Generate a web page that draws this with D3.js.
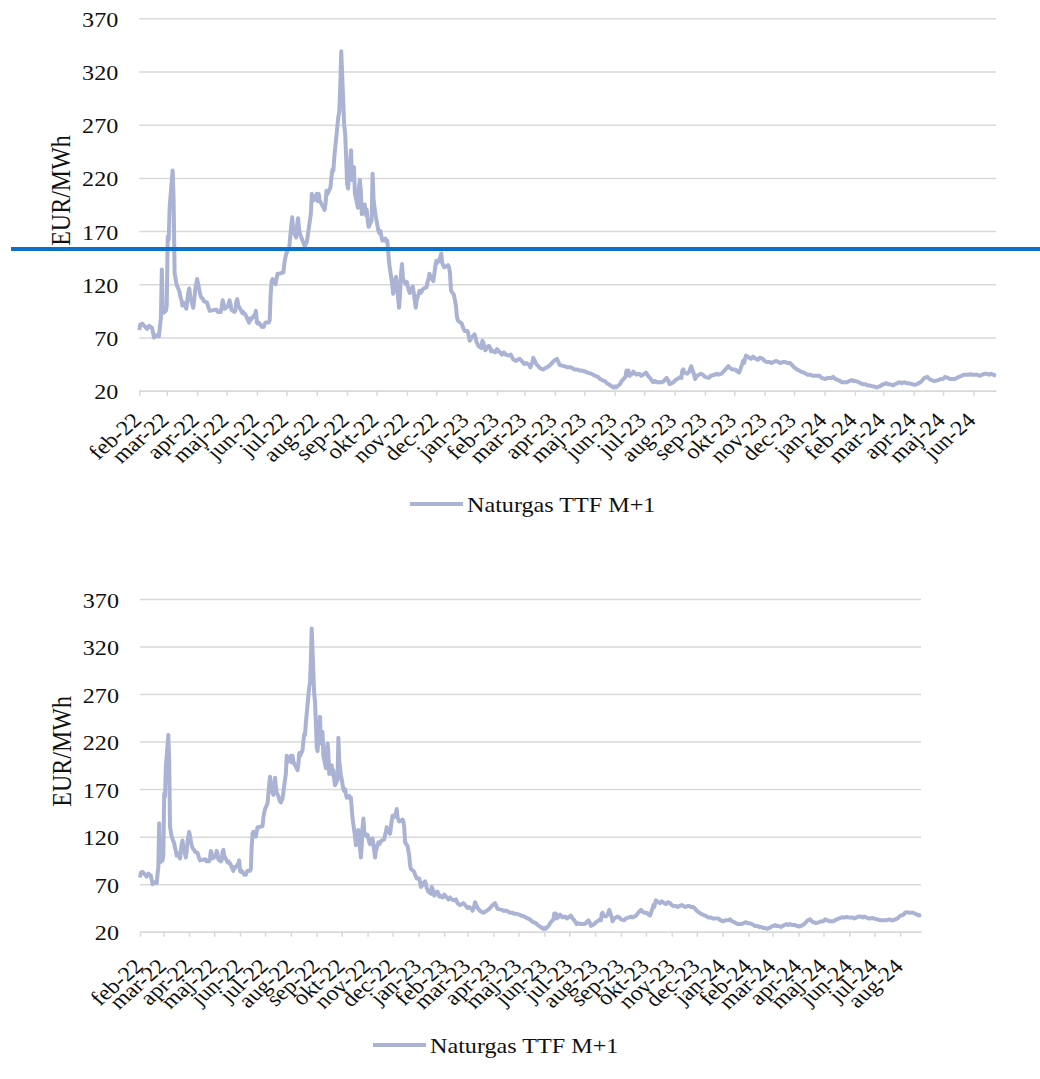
<!DOCTYPE html>
<html>
<head>
<meta charset="utf-8">
<script src="https://cdn.jsdelivr.net/npm/d3@7"></script>
<style>
  body { margin: 0; background: #fff; }
  svg { display: block; }
  text { font-family: "Liberation Serif", "Times New Roman", serif; fill: #111; }
</style>
</head>
<body>
<div id="chart"></div>
<script>
// TTF front-month prices (EUR/MWh)
const days2022 = ["02-01","02-02","02-04","02-07","02-09","02-11","02-14","02-16","02-18","02-21","02-22","02-23","02-24","02-25","02-28",
  "03-01","03-02","03-03","03-04","03-07","03-08","03-09","03-10","03-11","03-14","03-15","03-16","03-17","03-18","03-21","03-22","03-23","03-24","03-25","03-28","03-29","03-30","03-31",
  "04-01","04-04","04-05","04-07","04-08","04-11","04-12","04-13","04-14","04-19","04-21","04-22","04-25","04-26","04-27","04-28","04-29",
  "05-02","05-03","05-04","05-05","05-06","05-09","05-10","05-11","05-12","05-13","05-16","05-17","05-18","05-19","05-20","05-23","05-24","05-25","05-26","05-27","05-30","05-31",
  "06-01","06-02","06-03","06-06","06-07","06-08","06-09","06-10","06-13","06-14","06-15","06-16","06-17","06-20","06-21","06-22","06-23","06-24","06-27","06-28","06-29","06-30",
  "07-01","07-04","07-05","07-06","07-07","07-08","07-11","07-12","07-13","07-14","07-15","07-18","07-19","07-20","07-21","07-22","07-25","07-26","07-27","07-28","07-29",
  "08-01","08-02","08-03","08-04","08-05","08-08","08-09","08-10","08-11","08-12","08-15","08-16","08-17","08-18","08-19","08-22","08-23","08-24","08-25","08-26","08-29","08-30","08-31",
  "09-01","09-02","09-05","09-06","09-07","09-08","09-09","09-12","09-13","09-14","09-15","09-16","09-19","09-20","09-21","09-22","09-23","09-26","09-27","09-28","09-29","09-30",
  "10-03","10-04","10-05","10-06","10-07","10-10","10-11","10-12","10-13","10-14","10-17","10-18","10-19","10-20","10-21","10-24","10-25","10-26","10-27","10-28","10-31",
  "11-01","11-02","11-03","11-04","11-07","11-08","11-09","11-10","11-11","11-14","11-15","11-16","11-17","11-18","11-21","11-22","11-23","11-24","11-25","11-28","11-29","11-30",
  "12-01","12-02","12-05","12-06","12-07","12-08","12-09","12-12","12-13","12-14","12-15","12-16","12-19","12-20","12-21","12-22","12-23","12-27","12-28","12-29","12-30"];
const ttf2022 = [77,82,83,80,78,81,79,70,72,71,80,88,134,93,95,
  100,165,162,193,227,200,131,125,120,113,108,105,100,103,97,105,112,116,108,98,105,115,120,
  125,111,108,106,104,103,100,97,95,96,96,94,94,98,105,102,97,
  99,101,105,102,96,94,95,104,106,100,95,93,94,92,92,86,84,88,87,88,92,95,
  84,83,84,80,81,80,83,84,84,86,110,123,125,120,125,130,130,130,131,131,140,145,
  149,155,165,175,183,170,164,176,182,172,167,160,157,156,158,160,180,186,205,200,199,
  205,198,205,199,197,192,190,196,208,205,211,220,228,227,240,268,277,282,305,339,270,262,240,
  214,210,246,218,222,230,205,192,210,218,208,186,195,185,190,180,174,180,224,200,192,185,
  170,168,170,165,161,163,160,161,150,139,120,111,115,125,127,98,110,130,139,125,120,
  122,118,114,112,118,112,105,98,105,114,112,113,115,116,117,122,125,130,127,123,130,137,
  142,140,145,149,140,138,136,137,138,136,130,114,110,105,100,90,86,83,80,78,76];

const days2023 = ["01-02","01-03","01-04","01-05","01-06","01-09","01-10","01-11","01-12","01-13","01-16","01-17","01-18","01-19","01-20","01-23","01-24","01-25","01-26","01-27","01-30","01-31",
  "02-01","02-03","02-06","02-08","02-10","02-13","02-15","02-17","02-20","02-22","02-24","02-27",
  "03-01","03-03","03-06","03-07","03-09","03-10","03-13","03-15","03-17","03-20","03-22","03-24","03-27","03-29","03-31",
  "04-03","04-04","04-06","04-11","04-13","04-17","04-19","04-21","04-24","04-26","04-28",
  "05-02","05-04","05-08","05-10","05-12","05-15","05-17","05-19","05-22","05-24","05-26","05-29","05-31",
  "06-01","06-02","06-05","06-07","06-08","06-09","06-12","06-13","06-14","06-15","06-16","06-19","06-20","06-21","06-22","06-23","06-26","06-28","06-30",
  "07-03","07-05","07-07","07-10","07-12","07-14","07-17","07-19","07-21","07-24","07-26","07-27","07-31",
  "08-02","08-04","08-07","08-08","08-09","08-10","08-11","08-14","08-16","08-18","08-21","08-22","08-24","08-28","08-30",
  "09-01","09-05","09-07","09-11","09-13","09-15","09-18","09-20","09-22","09-25","09-27","09-29",
  "10-02","10-04","10-06","10-09","10-10","10-11","10-12","10-13","10-16","10-18","10-20","10-23","10-25","10-27","10-30",
  "11-01","11-03","11-06","11-08","11-10","11-13","11-15","11-17","11-20","11-22","11-24","11-27","11-29",
  "12-01","12-04","12-06","12-08","12-11","12-13","12-15","12-18","12-20","12-22","12-27","12-29"];
const ttf2023 = [76,72,67,68,70,73,70,66,64,62,60,67,65,62,58,62,62,60,57,58,56,57,
  59,57,54,56,54,53,54,50,48,49,50,47,
  45,46,44,42,47,51,45,43,41,40,41,42,44,46,48,
  50,48,44,43,42,42,41,40,40,39,39,
  38,37,36,35,34,33,31,30,29,27,26,24,23,
  24,23,25,27,29,30,33,39,36,39,34,36,38,37,36,35,36,34,35,
  37,34,32,28,29,28,28,28,29,32,29,26,28,
  30,31,33,32,39,40,37,36,38,43,35,31,34,36,35,
  33,32,34,35,36,35,36,38,40,43,41,40,
  40,38,37,45,48,46,50,53,51,50,52,50,49,51,50,
  48,47,47,46,47,48,47,46,47,47,46,46,44,
  42,40,39,38,37,36,35,35,34,34,34,32];

const days2024 = ["01-02","01-04","01-08","01-10","01-12","01-15","01-17","01-19","01-22","01-24","01-26","01-29","01-31",
  "02-02","02-05","02-07","02-09","02-12","02-14","02-16","02-19","02-21","02-23","02-26","02-28",
  "03-01","03-04","03-06","03-08","03-11","03-13","03-15","03-18","03-20","03-22","03-25","03-27",
  "04-02","04-04","04-08","04-10","04-12","04-15","04-17","04-19","04-22","04-24","04-26","04-29",
  "05-01","05-03","05-06","05-08","05-10","05-13","05-15","05-17","05-20","05-22","05-24","05-27","05-29","05-31",
  "06-03","06-05","06-07","06-10","06-12","06-14","06-17","06-19","06-21","06-24","06-26","06-28",
  "07-01","07-03","07-05","07-08","07-10","07-12","07-15","07-17","07-19","07-22","07-24","07-26","07-29","07-31",
  "08-02","08-05","08-07","08-09","08-12","08-14","08-16","08-19","08-21","08-23","08-26"];
const ttf2024 = [31,32,32,33,31,30,29,28,28,28,29,30,29,
  29,28,27,26,26,25,25,24,24,23,24,25,
  26,27,26,26,25,26,27,28,27,28,27,27,
  25.5,26,28,30,32,33,31,30,29,29.5,30,31,
  31,33,32,31,31,31,32,33,34,35,35,35,35.5,35,
  35,35,34,35,36,36,35,36,35,34,34,34.5,
  34,33,33,32,32,32,32,32.5,33,32,32,33,34,36,
  37,38,40,40.5,40,40,40,39,38,37,38];

const monthNames = ["jan","feb","mar","apr","maj","jun","jul","aug","sep","okt","nov","dec"];
const yTicks = [20, 70, 120, 170, 220, 270, 320, 370];
const seriesName = "Naturgas TTF M+1";
const yTitle = "EUR/MWh";

function rows(year, days, vals) {
  return days.map((d, i) => ({
    date: new Date(year, +d.slice(0, 2) - 1, +d.slice(3)),
    value: vals[i]
  }));
}
const data = [
  ...rows(2022, days2022, ttf2022),
  ...rows(2023, days2023, ttf2023),
  ...rows(2024, days2024, ttf2024)
];

const lineColor = "#aab3d3",
      gridColor = "#d9d9d9",
      sx = 1.15; // the reference text is stretched sideways

const svg = d3.select("#chart")
  .append("svg")
  .attr("width", 1040)
  .attr("height", 1079);

svg.append("rect").attr("width", 1040).attr("height", 1079).attr("fill", "#fff");

const fmt = d => monthNames[d.getMonth()] + "-" + String(d.getFullYear()).slice(2);

function drawChart(o) {
  const start = new Date(2022, 1, 1);
  const series = data.filter(d => d.date <= o.end);

  const x = d3.scaleTime().domain([start, o.end]).range([o.left, o.right]);
  const y = d3.scaleLinear().domain([20, 370]).range([o.bottom, o.top]);

  const g = svg.append("g");

  // gridlines + y labels
  const yAxis = g.append("g")
    .attr("transform", `translate(${o.left},0)`)
    .call(d3.axisLeft(y).tickValues(yTicks).tickSize(-(o.right - o.left)).tickFormat(d3.format("d")));
  yAxis.select(".domain").remove();
  yAxis.selectAll(".tick line").attr("stroke", gridColor).attr("stroke-width", 1.5);
  yAxis.selectAll(".tick text")
    .attr("x", null).attr("dy", null)
    .attr("transform", `translate(-21,8) scale(${sx},1)`)
    .attr("text-anchor", "end")
    .style("font-size", "21px")
    .style("font-family", null)
    .attr("fill", "#111");

  // month ticks and labels
  const months = d3.timeMonth.range(start, d3.timeDay.offset(o.end, 1));
  const xAxis = g.append("g")
    .attr("transform", `translate(0,${o.bottom})`)
    .call(d3.axisBottom(x).tickValues(months).tickSize(5).tickSizeOuter(0).tickFormat(fmt));
  xAxis.select(".domain").attr("stroke", gridColor).attr("stroke-width", 1.5);
  xAxis.selectAll(".tick line").attr("stroke", gridColor).attr("stroke-width", 1.5);
  xAxis.selectAll(".tick text")
    .attr("y", null).attr("dy", null)
    .attr("transform", `translate(${o.labelX},${o.labelY}) scale(${sx},1) rotate(-45)`)
    .attr("text-anchor", "end")
    .style("font-size", "21px")
    .style("font-family", null)
    .attr("fill", "#111");

  // y title
  g.append("text")
    .attr("transform", `translate(${o.left - 69},${(o.top + o.bottom) / 2 - 14}) scale(${sx},1) rotate(-90)`)
    .attr("text-anchor", "middle")
    .style("font-size", "24px")
    .text(yTitle);

  // series line
  g.append("path")
    .datum(series)
    .attr("fill", "none")
    .attr("stroke", lineColor)
    .attr("stroke-width", 4)
    .attr("stroke-linejoin", "round")
    .attr("d", d3.line().x(d => x(d.date)).y(d => y(d.value)));

  // legend
  g.append("line")
    .attr("x1", o.legendX).attr("x2", o.legendX + 53)
    .attr("y1", o.legendY).attr("y2", o.legendY)
    .attr("stroke", lineColor).attr("stroke-width", 4);
  g.append("text")
    .attr("transform", `translate(${o.legendX + 57},${o.legendY + 8}) scale(${sx},1)`)
    .style("font-size", "21px")
    .text(seriesName);
}

drawChart({ end: new Date(2024, 5, 24), left: 139.3, right: 996, top: 18.3, bottom: 390.7,
            labelX: 3, labelY: 31, legendX: 410, legendY: 504 });
drawChart({ end: new Date(2024, 7, 26), left: 140, right: 921, top: 599, bottom: 931.7,
            labelX: 4, labelY: 36, legendX: 373, legendY: 1045 });

// blue marker line across the top chart
svg.append("line")
  .attr("x1", 11).attr("x2", 1040)
  .attr("y1", 249).attr("y2", 249)
  .attr("stroke", "#0b72cc")
  .attr("stroke-width", 4);
</script>
</body>
</html>
